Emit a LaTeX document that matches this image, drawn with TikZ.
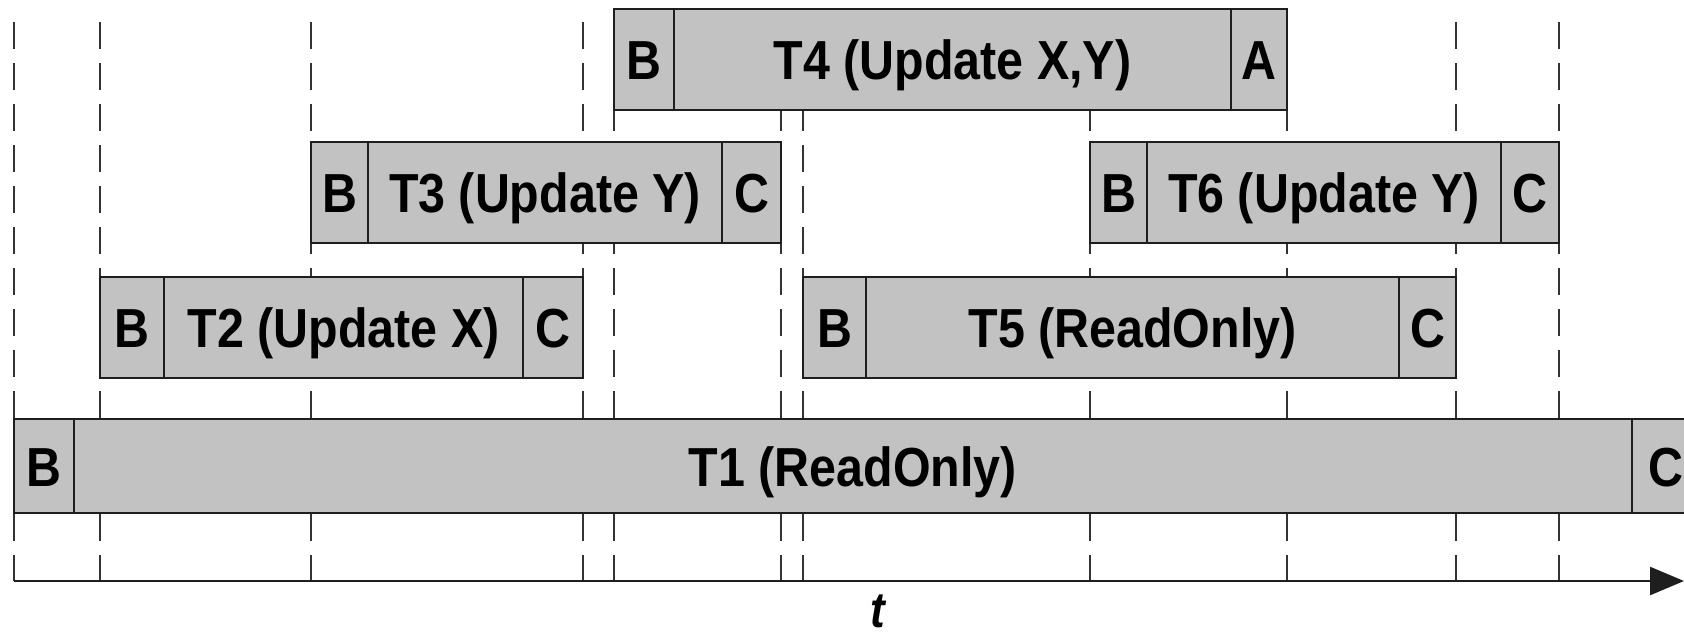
\documentclass[tikz,border=0pt]{standalone}
\usepackage{fontspec}
\setmainfont{Liberation Sans}[FakeStretch=0.88]
\usetikzlibrary{arrows.meta}
\definecolor{boxgray}{RGB}{194,194,194}
\definecolor{lineclr}{RGB}{30,30,30}
\newcommand\cellbox[6]{%
  \pgfmathsetmacro\cw{#4-#2}\pgfmathsetmacro\ch{#5-#3}%
  \pgfmathsetmacro\cx{(#2+#4)/2}\pgfmathsetmacro\cy{(#3+#5)/2}%
  \node[cell, minimum width=\cw pt, minimum height=\ch pt] (#1) at (\cx,\cy) {#6};}
\begin{document}
\begin{tikzpicture}[x=1pt,y=-1pt,
  cell/.style={draw=lineclr, line width=2.2pt, fill=boxgray, inner sep=0pt,
    font=\fontsize{55}{60}\selectfont\bfseries, text height=40pt, text depth=0pt},
  guide/.style={draw=black!80, line width=2.2pt, dash pattern=on 27pt off 14pt},
  axisline/.style={draw=lineclr, line width=2.6pt, -{Triangle[length=34pt,width=28pt]}},
  tlabel/.style={font=\fontsize{50}{55}\selectfont\bfseries\itshape, inner sep=0pt}]
\useasboundingbox (0,0) rectangle (1684,638);
\clip (0,0) rectangle (1684,638);
% guide lines
\foreach \gx [count=\i] in {14,100,311,583,614,781,803,1090,1287,1456,1559}{
  \coordinate (g\i top) at (\gx,22);
  \coordinate (g\i bot) at (\gx,581);
  \draw[guide] (g\i top) -- (g\i bot);
}
% axis
\coordinate (ax0) at (14,581);
\coordinate (ax1) at (1684,581);
\draw[axisline] (ax0) -- (ax1);
\node[tlabel, anchor=base] (tl) at (878,627) {t};
% T4
\cellbox{t4b}{614}{9}{674}{110}{B}
\cellbox{t4}{674}{9}{1231}{110}{T4 (Update X,Y)}
\cellbox{t4a}{1231}{9}{1287}{110}{A}
% T3
\cellbox{t3b}{311}{142}{368}{243}{B}
\cellbox{t3}{368}{142}{722}{243}{T3 (Update Y)}
\cellbox{t3c}{722}{142}{781}{243}{C}
% T6
\cellbox{t6b}{1090}{142}{1147}{243}{B}
\cellbox{t6}{1147}{142}{1501}{243}{T6 (Update Y)}
\cellbox{t6c}{1501}{142}{1559}{243}{C}
% T2
\cellbox{t2b}{100}{277}{164}{378}{B}
\cellbox{t2}{164}{277}{523}{378}{T2 (Update X)}
\cellbox{t2c}{523}{277}{583}{378}{C}
% T5
\cellbox{t5b}{803}{277}{866}{378}{B}
\cellbox{t5}{866}{277}{1399}{378}{T5 (ReadOnly)}
\cellbox{t5c}{1399}{277}{1456}{378}{C}
% T1
\cellbox{t1b}{14}{419}{74}{513}{B}
\cellbox{t1}{74}{419}{1632}{513}{T1 (ReadOnly)}
\cellbox{t1c}{1632}{419}{1700}{513}{C}
\end{tikzpicture}
\end{document}
